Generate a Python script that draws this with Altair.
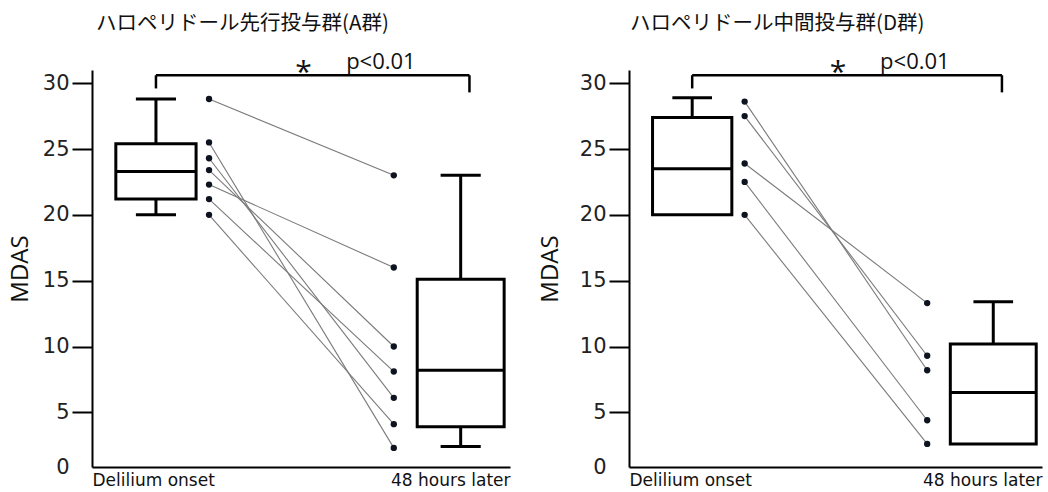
import altair as alt
import pandas as pd

# ---------------- data ----------------
titles = ["ハロペリドール先行投与群(A群)", "ハロペリドール中間投与群(D群)"]
time_labels = ["Delilium onset", "48 hours later"]
y_ticks = [5, 10, 15, 20, 25, 30]
zero_label = "0"

# individual patients (onset -> 48 h)
a_onset = [28.8, 25.5, 24.3, 23.4, 22.3, 21.2, 20.0]
a_later = [23.0, 2.3, 6.1, 10.0, 16.0, 8.1, 4.1]
d_onset = [28.6, 27.5, 23.9, 22.5, 20.0]
d_later = [8.2, 9.3, 13.3, 4.4, 2.6]

# box statistics: [min, q1, median, q3, max]
a_box_onset = [20.0, 21.2, 23.3, 25.4, 28.8]
a_box_later = [2.4, 3.9, 8.2, 15.1, 23.0]
d_box_onset = [20.0, 20.0, 23.5, 27.4, 28.9]
d_box_later = [2.6, 2.6, 6.5, 10.2, 13.4]

sig_star = "*"
sig_text = "p<0.01"

# ---------------- layout constants ----------------
Y_MIN = 0.85              # bottom of the drawn axis (labelled "0" in the original)
Y_MAX = 31
BOX_X = [15.3, 88.2]      # box centres (x scale 0..100)
BOX_HALF = [9.6, 10.4]
CAP_HALF = 4.8
DOT_X = [28.0, 72.2]      # dot columns
BRACKET = dict(x1=15.3, x2=90.3, top=30.6, l_end=29.6, r_end=29.3)
STAR_POS = (50.6, 30.1)
PTEXT_POS = (60.8, 31.6)

FONT = "Open Sans"
TFONT = "DejaVu Sans"
JFONT = "Noto Sans CJK JP"

x_scale = alt.Scale(domain=[0, 100], nice=False, zero=False)
y_scale = alt.Scale(domain=[Y_MIN, Y_MAX], nice=False, zero=False)

x_axis = alt.Axis(values=[0, 100],
                  labelExpr=f"datum.value == 0 ? '{time_labels[0]}' : '{time_labels[1]}'",
                  labelFlush=True, ticks=False, grid=False, title=None,
                  labelFontSize=17, labelPadding=5, labelFont=TFONT,
                  domainWidth=2, domainColor="black", labelColor="#111")


def make_y_axis(title_pad):
    return alt.Axis(values=[Y_MIN] + y_ticks, grid=False, title="MDAS",
                    labelExpr=f"datum.value < 1 ? '{zero_label}' : datum.label",
                    titleFontSize=24, titleFontWeight="normal", titleFont=FONT,
                    titlePadding=title_pad, titleColor="#111",
                    labelFontSize=21, labelFont=TFONT, labelColor="#222",
                    tickSize=20, tickWidth=2,
                    tickColor={"condition": {"test": "datum.value < 1", "value": "transparent"},
                               "value": "black"},
                    domainWidth=2, domainColor="black", labelPadding=3)


def panel(title, onset, later, box_on, box_la, width, title_dx, title_pad):
    y_axis = make_y_axis(title_pad)

    def X(field):
        return alt.X(f"{field}:Q", scale=x_scale, axis=x_axis)

    def Y(field):
        return alt.Y(f"{field}:Q", scale=y_scale, axis=y_axis)

    rows = []
    for i, (a, b) in enumerate(zip(onset, later)):
        rows.append(dict(pid=i, x=DOT_X[0], v=a))
        rows.append(dict(pid=i, x=DOT_X[1], v=b))
    pts = pd.DataFrame(rows)

    brows = []
    for k, st in enumerate([box_on, box_la]):
        mn, q1, md, q3, mx = st
        c, h = BOX_X[k], BOX_HALF[k]
        brows.append(dict(xl=c - h, xh=c + h, xc=c, cl=c - CAP_HALF, ch=c + CAP_HALF,
                          mn=mn, q1=q1, md=md, q3=q3, mx=mx))
    boxes = pd.DataFrame(brows)

    whisk, caps = [], []
    for r in brows:
        if r["mx"] > r["q3"]:
            whisk.append(dict(x=r["xc"], y1=r["q3"], y2=r["mx"]))
            caps.append(dict(x1=r["cl"], x2=r["ch"], y=r["mx"]))
        if r["mn"] < r["q1"]:
            whisk.append(dict(x=r["xc"], y1=r["mn"], y2=r["q1"]))
            caps.append(dict(x1=r["cl"], x2=r["ch"], y=r["mn"]))
    whisk = pd.DataFrame(whisk)
    caps = pd.DataFrame(caps)

    lines = alt.Chart(pts).mark_line(color="#7a7a7a", strokeWidth=1.1).encode(
        x=X("x"), y=Y("v"), detail="pid:N")
    dots = alt.Chart(pts).mark_point(filled=True, shape="circle", size=40,
                                     color="#0d1420", opacity=1).encode(
        x=X("x"), y=Y("v"))

    whisker_l = alt.Chart(whisk).mark_rule(color="black", strokeWidth=3).encode(
        x=X("x"), y=Y("y1"), y2="y2:Q")
    cap_l = alt.Chart(caps).mark_rule(color="black", strokeWidth=3).encode(
        x=X("x1"), x2="x2:Q", y=Y("y"))
    rect_l = alt.Chart(boxes).mark_rect(fill="white", stroke="black", strokeWidth=3).encode(
        x=X("xl"), x2="xh:Q", y=Y("q1"), y2="q3:Q")
    med_l = alt.Chart(boxes).mark_rule(color="black", strokeWidth=3).encode(
        x=X("xl"), x2="xh:Q", y=Y("md"))

    br = pd.DataFrame([
        dict(x1=BRACKET["x1"], x2=BRACKET["x2"], y1=BRACKET["top"], y2=BRACKET["top"]),
        dict(x1=BRACKET["x1"], x2=BRACKET["x1"], y1=BRACKET["l_end"], y2=BRACKET["top"]),
        dict(x1=BRACKET["x2"], x2=BRACKET["x2"], y1=BRACKET["r_end"], y2=BRACKET["top"]),
    ])
    bracket_l = alt.Chart(br).mark_rule(color="black", strokeWidth=2.5).encode(
        x=X("x1"), x2="x2:Q", y=Y("y1"), y2="y2:Q")

    star_df = pd.DataFrame([dict(x=STAR_POS[0], y=STAR_POS[1], t=sig_star)])
    ptxt = pd.DataFrame([dict(x=PTEXT_POS[0], y=PTEXT_POS[1], t=sig_text)])
    star_l = alt.Chart(star_df).mark_text(fontSize=30, font=FONT, color="#111",
                                          baseline="alphabetic", align="center").encode(
        x=X("x"), y=Y("y"), text="t:N")
    p_l = alt.Chart(ptxt).mark_text(fontSize=22, font=FONT, color="#111",
                                    baseline="middle", align="left").encode(
        x=X("x"), y=Y("y"), text="t:N")

    return alt.layer(lines, dots, whisker_l, cap_l, rect_l, med_l, bracket_l,
                     star_l, p_l).properties(
        width=width, height=397,
        title=alt.TitleParams(title, font=JFONT, fontSize=20.5, fontWeight="normal",
                              color="#111", anchor="start", frame="group",
                              dx=title_dx, offset=17))


left = panel(titles[0], a_onset, a_later, a_box_onset, a_box_later, 418, 4, 10)
right = panel(titles[1], d_onset, d_later, d_box_onset, d_box_later, 413, 1, 17)

chart = alt.hconcat(left, right, spacing=28).properties(
    padding={"left": 8, "top": 13, "right": 4, "bottom": 0},
    background="white",
).configure_view(stroke=None)

chart.save("out.html", embed_options={"renderer": "svg", "actions": False})
